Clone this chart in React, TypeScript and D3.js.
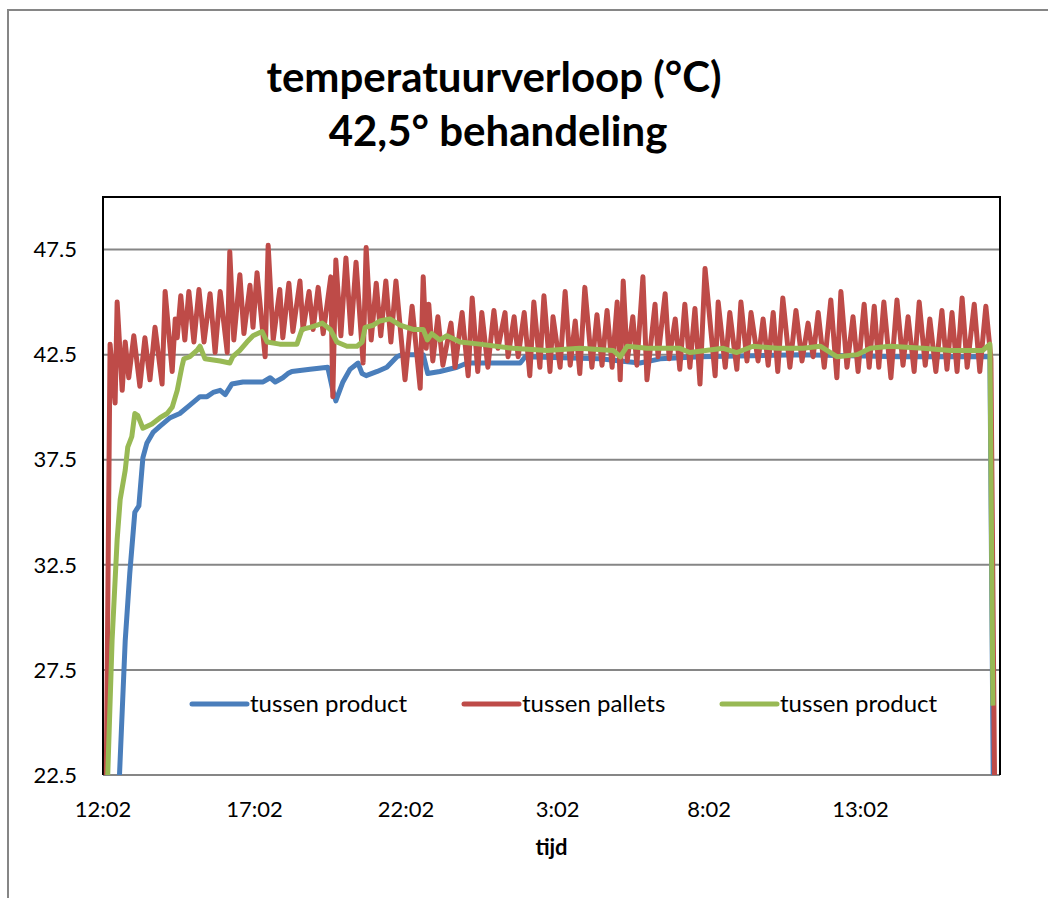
import React, { useEffect, useRef } from 'react';
import * as d3 from 'd3';

// minutes since 12:02 and temperatures (°C)
const blueMinutes = [0, 30, 44, 53, 63, 71, 79, 87, 99, 113, 123, 133, 152, 172, 192, 206, 218, 232, 242, 255, 277, 317, 331, 341, 356, 366, 374, 410, 445, 455, 461, 475, 489, 505, 513, 521, 543, 562, 582, 592, 634, 643, 667, 701, 721, 826, 836, 984, 1024, 1063, 1103, 1182, 1380, 1578, 1756, 1764];
const blueTemps = [18.0, 21.0, 28.9, 32.1, 35.0, 35.3, 37.6, 38.3, 38.8, 39.1, 39.3, 39.5, 39.7, 40.1, 40.5, 40.5, 40.7, 40.8, 40.6, 41.1, 41.2, 41.2, 41.4, 41.2, 41.4, 41.6, 41.7, 41.8, 41.9, 40.8, 40.3, 41.2, 41.8, 42.1, 41.6, 41.5, 41.7, 41.9, 42.4, 42.5, 42.5, 41.6, 41.7, 41.9, 42.1, 42.1, 42.4, 42.3, 42.2, 42.1, 42.3, 42.4, 42.5, 42.4, 42.4, 18.0];

const redMinutes = [0, 6, 14, 24, 28, 38, 44, 51, 61, 73, 83, 93, 103, 117, 123, 137, 143, 147, 154, 162, 170, 180, 190, 200, 212, 222, 232, 246, 251, 259, 271, 279, 291, 297, 305, 321, 327, 337, 350, 356, 368, 376, 390, 396, 408, 416, 426, 436, 451, 455, 461, 471, 481, 491, 501, 515, 521, 531, 541, 550, 560, 570, 580, 598, 612, 628, 634, 640, 645, 653, 663, 673, 689, 697, 711, 723, 731, 742, 750, 762, 774, 782, 796, 802, 814, 822, 834, 845, 853, 865, 873, 885, 891, 905, 915, 925, 935, 944, 954, 968, 978, 988, 998, 1008, 1018, 1024, 1030, 1038, 1049, 1057, 1069, 1077, 1093, 1099, 1113, 1121, 1133, 1142, 1152, 1162, 1172, 1182, 1192, 1212, 1218, 1232, 1241, 1255, 1263, 1275, 1283, 1297, 1307, 1317, 1327, 1336, 1346, 1360, 1372, 1384, 1396, 1406, 1416, 1428, 1441, 1453, 1461, 1473, 1485, 1495, 1507, 1517, 1527, 1536, 1546, 1560, 1572, 1584, 1594, 1606, 1616, 1628, 1637, 1649, 1661, 1671, 1681, 1691, 1701, 1711, 1725, 1736, 1748, 1758, 1766];
const redTemps = [20.0, 21.0, 43.0, 40.2, 45.0, 40.8, 43.1, 41.4, 43.4, 41.0, 43.3, 41.3, 43.8, 41.1, 45.5, 41.7, 44.2, 43.3, 45.3, 43.2, 45.5, 43.1, 45.6, 43.1, 45.4, 42.6, 45.5, 42.6, 47.4, 43.2, 46.3, 43.5, 45.8, 43.8, 46.4, 42.4, 47.7, 43.2, 45.6, 43.3, 45.9, 43.6, 46.0, 43.7, 45.5, 43.7, 45.7, 43.5, 46.2, 40.5, 47.0, 43.4, 47.1, 43.5, 46.9, 42.1, 47.6, 43.2, 45.9, 43.4, 46.0, 43.1, 46.0, 41.3, 44.8, 40.9, 46.2, 42.8, 44.9, 42.2, 44.3, 42.0, 44.0, 41.9, 44.5, 41.5, 45.2, 41.7, 44.5, 41.9, 44.6, 42.8, 44.5, 42.4, 44.3, 42.4, 44.5, 41.5, 45.0, 41.9, 45.3, 41.7, 44.3, 41.9, 45.5, 42.0, 44.1, 41.6, 45.7, 41.9, 44.4, 42.0, 44.6, 41.9, 45.0, 41.3, 46.0, 42.2, 44.3, 42.0, 46.2, 41.3, 44.9, 42.4, 45.4, 42.3, 44.2, 41.8, 44.9, 41.9, 44.7, 41.1, 46.6, 41.5, 45.0, 41.9, 44.5, 41.8, 45.0, 42.2, 44.5, 42.2, 44.2, 42.0, 44.5, 41.7, 45.2, 41.9, 44.6, 42.2, 44.0, 42.4, 44.5, 41.9, 45.1, 41.4, 45.5, 41.9, 44.3, 41.7, 44.9, 41.9, 44.8, 41.9, 45.0, 41.4, 45.1, 42.0, 44.3, 41.7, 45.0, 42.0, 44.2, 41.7, 44.6, 41.8, 44.5, 41.7, 45.2, 41.9, 44.9, 41.7, 44.8, 42.3, 20.0];

const greenMinutes = [0, 6, 18, 28, 34, 44, 49, 57, 63, 69, 79, 97, 113, 127, 137, 147, 156, 160, 172, 186, 192, 202, 232, 251, 257, 271, 285, 297, 315, 325, 350, 384, 394, 410, 424, 434, 450, 463, 483, 503, 513, 519, 535, 548, 568, 588, 614, 634, 642, 651, 667, 681, 707, 746, 812, 879, 944, 1010, 1024, 1038, 1077, 1142, 1162, 1228, 1255, 1287, 1335, 1386, 1420, 1453, 1493, 1519, 1558, 1624, 1677, 1742, 1756, 1762];
const greenTemps = [16.0, 20.0, 28.9, 33.7, 35.6, 37.0, 38.1, 38.6, 39.7, 39.6, 39.0, 39.2, 39.5, 39.7, 40.0, 40.8, 41.9, 42.3, 42.4, 42.7, 42.9, 42.3, 42.2, 42.1, 42.4, 42.7, 43.1, 43.4, 43.6, 43.1, 43.0, 43.0, 43.7, 43.8, 43.9, 44.0, 43.7, 43.1, 42.9, 42.9, 43.1, 43.8, 43.9, 44.1, 44.2, 43.9, 43.7, 43.7, 43.2, 43.5, 43.2, 43.4, 43.1, 43.0, 42.8, 42.7, 42.8, 42.7, 42.4, 42.9, 42.8, 42.8, 42.6, 42.8, 42.6, 42.9, 42.8, 42.8, 42.9, 42.4, 42.5, 42.8, 42.9, 42.8, 42.7, 42.7, 43.0, 25.8];

const yTicks = [22.5, 27.5, 32.5, 37.5, 42.5, 47.5];
const xTickMinutes = [0, 300, 600, 900, 1200, 1500];
const xTickLabels = ['12:02', '17:02', '22:02', '3:02', '8:02', '13:02'];
const seriesNames = ['tussen product', 'tussen pallets', 'tussen product'];
const seriesColors = ['#4a7ebb', '#be4b48', '#98b954'];

const FONT = "Lato, 'Open Sans', sans-serif";

function drawChart(svgRoot: SVGSVGElement) {
    const svg = d3.select(svgRoot);
    svg.selectChildren().remove();

    const width = 1048;
    const height = 898;
    const margin = { top: 197, right: 48, bottom: 123, left: 103 };

    const x = d3.scaleLinear().domain([0, 1776]).range([margin.left, width - margin.right]);
    const y = d3.scaleLinear().domain([22.5, 50]).range([height - margin.bottom, margin.top]);

    svg.attr('viewBox', [0, 0, width, height] as any);

    // chart area border
    svg.append('rect')
        .attr('x', 8).attr('y', 10)
        .attr('width', 1200).attr('height', 1000)
        .attr('fill', '#fff')
        .attr('stroke', '#868686')
        .attr('stroke-width', 2);

    // title
    const title = svg.append('text')
        .attr('text-anchor', 'middle')
        .attr('font-family', FONT)
        .attr('font-weight', 'bold')
        .attr('font-size', 42)
        .attr('fill', '#000');
    title.append('tspan').attr('x', 494).attr('y', 92).text('temperatuurverloop (°C)');
    title.append('tspan').attr('x', 498).attr('y', 146).text('42,5° behandeling');

    // gridlines
    svg.append('g')
        .selectAll('line')
        .data(yTicks)
        .enter().append('line')
        .attr('x1', margin.left).attr('x2', width - margin.right)
        .attr('y1', (d) => y(d)).attr('y2', (d) => y(d))
        .attr('stroke', '#868686')
        .attr('stroke-width', 2);

    // plot border
    svg.append('path')
        .attr('d', `M${margin.left},${y(22.5)}V${margin.top}H${width - margin.right}V${y(22.5)}`)
        .attr('fill', 'none')
        .attr('stroke', '#000')
        .attr('stroke-width', 2);

    // y axis labels
    svg.append('g')
        .selectAll('text')
        .data(yTicks)
        .enter().append('text')
        .attr('x', 77)
        .attr('y', (d) => y(d))
        .attr('dy', '0.35em')
        .attr('text-anchor', 'end')
        .attr('font-family', FONT)
        .attr('font-size', 22)
        .text((d) => d.toFixed(1));

    // x axis labels
    svg.append('g')
        .selectAll('text')
        .data(xTickMinutes)
        .enter().append('text')
        .attr('x', (d) => x(d))
        .attr('y', 817)
        .attr('text-anchor', 'middle')
        .attr('font-family', FONT)
        .attr('font-size', 22)
        .text((d, i) => xTickLabels[i]);

    svg.append('text')
        .attr('x', (margin.left + width - margin.right) / 2)
        .attr('y', 855)
        .attr('text-anchor', 'middle')
        .attr('font-family', FONT)
        .attr('font-weight', 'bold')
        .attr('font-size', 22)
        .text('tijd');

    // series
    svg.append('clipPath').attr('id', 'plot-clip')
        .append('rect')
        .attr('x', margin.left).attr('y', margin.top)
        .attr('width', width - margin.right - margin.left)
        .attr('height', y(22.5) - margin.top);

    const series = [
        blueMinutes.map((m, i) => [m, blueTemps[i]] as [number, number]),
        redMinutes.map((m, i) => [m, redTemps[i]] as [number, number]),
        greenMinutes.map((m, i) => [m, greenTemps[i]] as [number, number]),
    ];

    const lineGen = d3.line<[number, number]>()
        .x((d) => x(d[0]))
        .y((d) => y(d[1]));

    const lines = svg.append('g').attr('clip-path', 'url(#plot-clip)');
    series.forEach((s, i) => {
        lines.append('path')
            .datum(s)
            .attr('fill', 'none')
            .attr('stroke', seriesColors[i])
            .attr('stroke-width', 5)
            .attr('stroke-linejoin', 'round')
            .attr('d', lineGen);
    });

    // legend
    const legendX = [192, 464, 722];
    const legend = svg.append('g');
    seriesNames.forEach((name, i) => {
        legend.append('line')
            .attr('x1', legendX[i]).attr('x2', legendX[i] + 55)
            .attr('y1', 704).attr('y2', 704)
            .attr('stroke', seriesColors[i])
            .attr('stroke-width', 5)
            .attr('stroke-linecap', 'round');
        legend.append('text')
            .attr('x', legendX[i] + 58)
            .attr('y', 712)
            .attr('font-family', FONT)
            .attr('font-size', 24)
            .text(name);
    });
}

export default function App() {
    const svgRef = useRef<SVGSVGElement>(null);

    useEffect(() => {
        svgRef.current && drawChart(svgRef.current);
    }, []);

    return (
        <div style={{ position: 'absolute', left: 0, top: 0, width: 1048, height: 898, overflow: 'hidden', background: '#fff' }}>
            <svg ref={svgRef} width={1048} height={898}></svg>
        </div>
    );
}
